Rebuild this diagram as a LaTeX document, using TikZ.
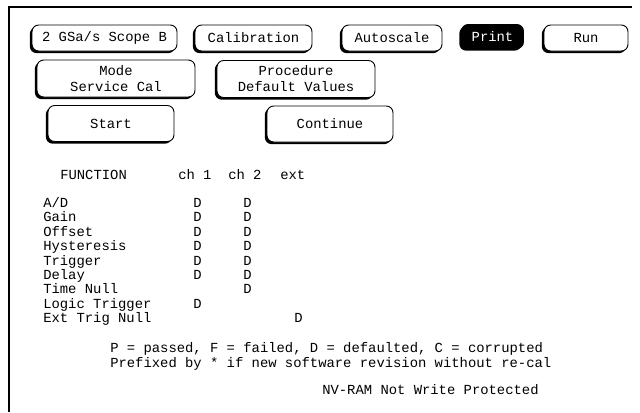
\documentclass[tikz,border=0pt]{standalone}
\usepackage{fontspec}
\setmonofont{Liberation Mono}
\usetikzlibrary{shadows}
\begin{document}
\begin{tikzpicture}[x=0.75pt,y=-0.75pt,
  every node/.style={font=\ttfamily\fontsize{10.4}{12}\selectfont, inner sep=0pt},
  btn/.style 2 args={draw, line width=0.7pt, rounded corners=5pt, fill=white,
    minimum width=#1*0.75pt, minimum height=#2*0.75pt, align=center,
    drop shadow={shadow xshift=-1.6pt, shadow yshift=-1.6pt, fill=black, opacity=1}},
  txt/.style={anchor=base west},
  frame/.style={line width=1.8pt}]
\useasboundingbox (0,0) rectangle (640,412);
\draw[frame] (632,7) -- (9,7) -- (9,412);
% buttons
\node[btn={145}{26}] (scope) at (104.5,38) {2 GSa/s Scope B};
\node[btn={117}{26}] (calib) at (253.5,38) {Calibration};
\node[btn={100}{26}] (auto) at (392,38) {Autoscale};
\node[btn={62}{24}, fill=black, text=white] (print) at (492.5,36.5) {Print};
\node[btn={84}{26}] (run) at (586,38) {Run};
\node[btn={158}{37}] (mode) at (116,78.5) {Mode\\ Service Cal};
\node[btn={158}{37}] (proc) at (296,79) {Procedure\\Default Values};
\node[btn={126}{36}] (start) at (111,123.5) {Start};
\node[btn={126}{36}] (cont) at (330,124) {Continue};
% table header
\node[txt] (hfunc) at (60,179.5) {FUNCTION};
\node[txt] (hch1) at (178,179.5) {ch 1};
\node[txt] (hch2) at (228,179.5) {ch 2};
\node[txt] (hext) at (280,179.5) {ext};
% rows
\node[txt] (r1) at (43,207.5) {A/D};
\node[txt] (r2) at (43,221.9) {Gain};
\node[txt] (r3) at (43,236.3) {Offset};
\node[txt] (r4) at (43,250.7) {Hysteresis};
\node[txt] (r5) at (43,265.1) {Trigger};
\node[txt] (r6) at (43,279.5) {Delay};
\node[txt] (r7) at (43,293.9) {Time Null};
\node[txt] (r8) at (43,308.3) {Logic Trigger};
\node[txt] (r9) at (43,322.7) {Ext Trig Null};
% ch1 column
\node[txt] (a1) at (193,207.5) {D};
\node[txt] (a2) at (193,221.9) {D};
\node[txt] (a3) at (193,236.3) {D};
\node[txt] (a4) at (193,250.7) {D};
\node[txt] (a5) at (193,265.1) {D};
\node[txt] (a6) at (193,279.5) {D};
\node[txt] (a8) at (193,308.3) {D};
% ch2 column
\node[txt] (b1) at (243,207.5) {D};
\node[txt] (b2) at (243,221.9) {D};
\node[txt] (b3) at (243,236.3) {D};
\node[txt] (b4) at (243,250.7) {D};
\node[txt] (b5) at (243,265.1) {D};
\node[txt] (b6) at (243,279.5) {D};
\node[txt] (b7) at (243,293.9) {D};
% ext column
\node[txt] (c9) at (294,322.7) {D};
% legend
\node[txt] (leg1) at (110,352.5) {P = passed, F = failed, D = defaulted, C = corrupted};
\node[txt] (leg2) at (110,367.5) {Prefixed by * if new software revision without re-cal};
\node[txt] (nvram) at (322,394.5) {NV-RAM Not Write Protected};
\end{tikzpicture}
\end{document}
